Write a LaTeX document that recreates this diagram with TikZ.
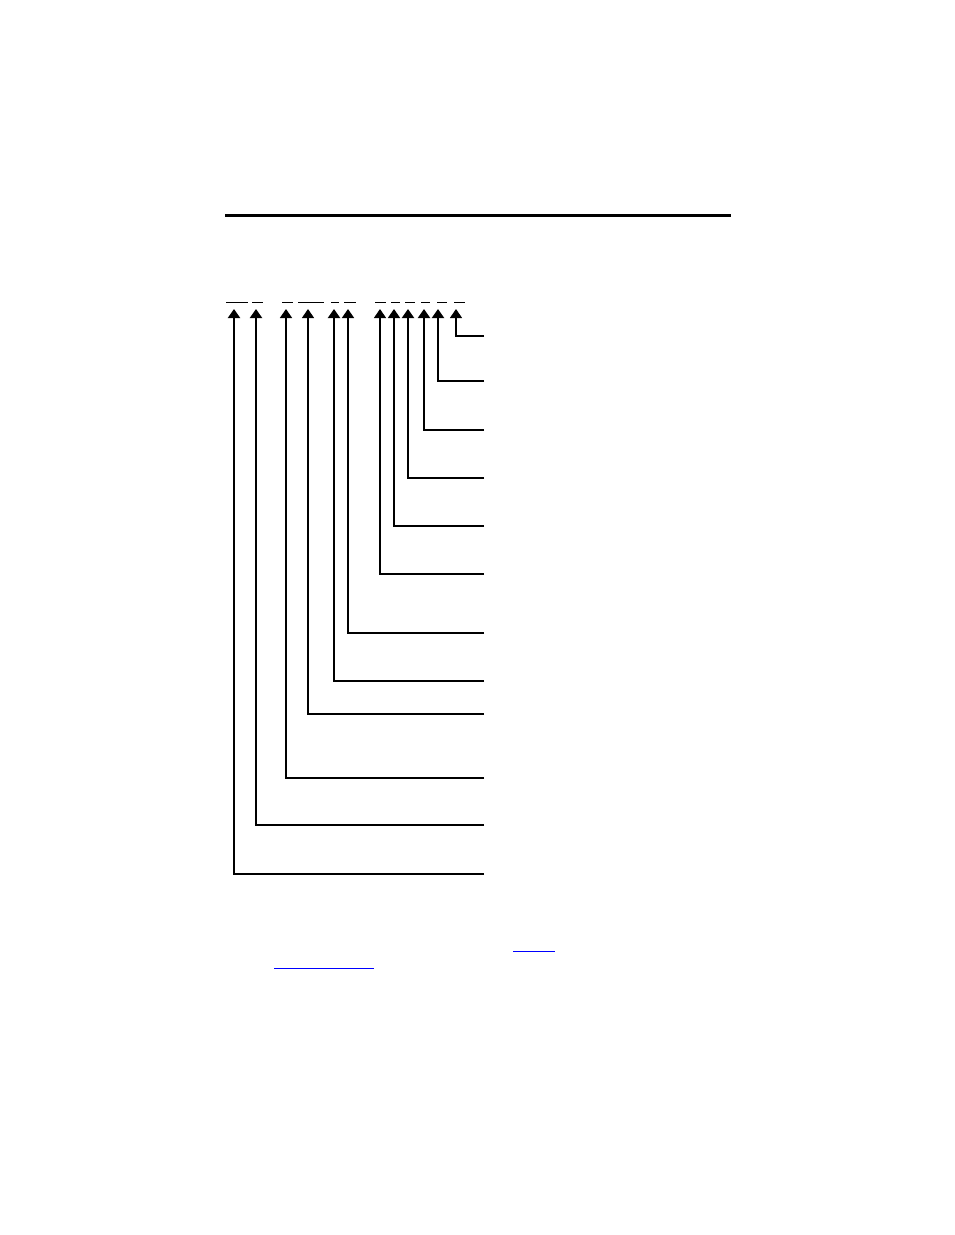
\documentclass[tikz,border=0pt]{standalone}
\usepackage{tikz}
\usetikzlibrary{arrows.meta}

\begin{document}
\begin{tikzpicture}[x=1pt,y=-1pt,
    lead/.style={-{Triangle[width=12pt,length=9pt]}},
    blank/.style={line width=1pt}]
    \useasboundingbox (0,0) rectangle (954,1235);
    % heavy rule
    \draw[line width=3pt] (225,215) -- (731,215);
    % field blanks
    \foreach \a/\b in {226/248,252/263,282/293,298/324,331/339,344/356,375/386,391/400,405/415,421/430,437/447,454/465}
      \draw[blank] (\a,302) -- (\b,302);
    % leaders, from the right edge up to each blank
    \foreach \i/\x/\y/\w in {1/456/336/1.2,2/438/381/2,3/424/430/2,4/408/478/2,5/394/526/1.6,6/380/574/1.2,
                             7/348/633/1.6,8/334/681/2,9/308/714/1.2,10/286/778/1.6,11/256/825/2,12/234/874/2} {
      \coordinate (t\i) at (\x,309);
      \coordinate (c\i) at (\x,\y);
      \coordinate (e\i) at (484,\y);
      \draw[lead,line width=\w pt] (e\i) -- (c\i) -- (t\i);
    }
    % links
    \draw[blue,blank] (513,951) -- (555,951);
    \draw[blue,blank] (274,968) -- (374,968);
  \end{tikzpicture}
\end{document}
